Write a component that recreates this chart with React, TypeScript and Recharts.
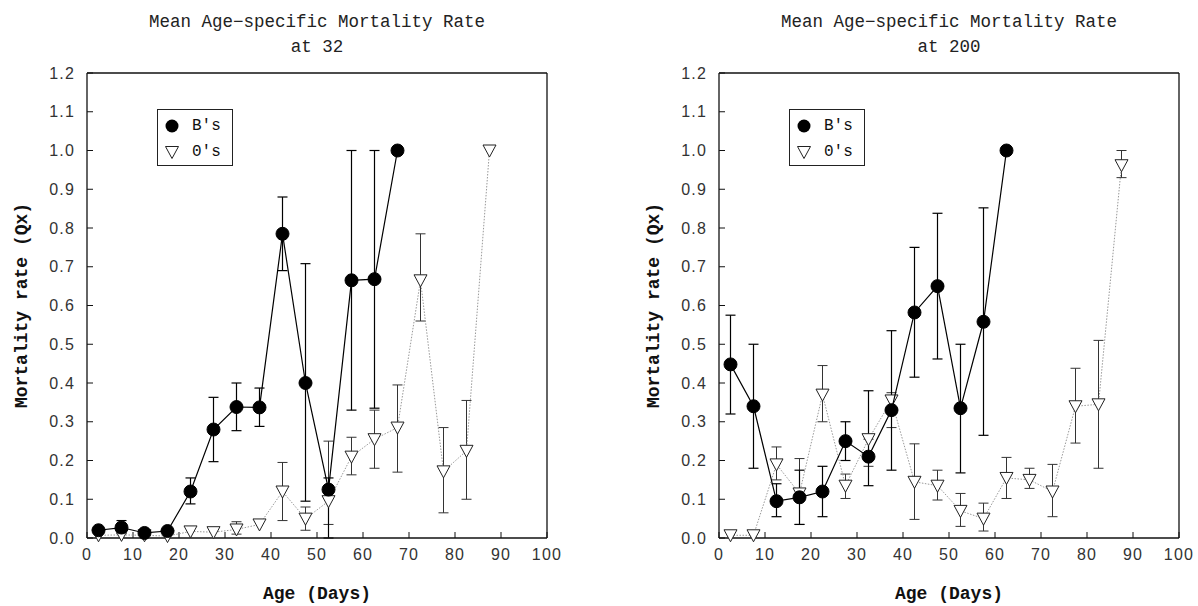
import React from 'react';
import { ComposedChart, Scatter, XAxis, YAxis, ErrorBar, Legend, Label } from 'recharts';

// ---------- shared axis ticks ----------
const xTicks = [0, 10, 20, 30, 40, 50, 60, 70, 80, 90, 100];
const yTicks = [0, 0.1, 0.2, 0.3, 0.4, 0.5, 0.6, 0.7, 0.8, 0.9, 1.0, 1.1, 1.2];

// ---------- panel 1: at 32 ----------
const title32 = ['Mean Age\u2212specific Mortality Rate', 'at 32'];
const bAges32 = [2.5, 7.5, 12.5, 17.5, 22.5, 27.5, 32.5, 37.5, 42.5, 47.5, 52.5, 57.5, 62.5, 67.5];
const bRate32 = [0.02, 0.027, 0.013, 0.018, 0.12, 0.28, 0.338, 0.337, 0.785, 0.4, 0.125, 0.665, 0.668, 1.0];
const bLow32 = [null, 0.012, null, null, 0.088, 0.197, 0.277, 0.288, 0.69, 0.095, 0.0, 0.33, 0.335, null];
const bHigh32 = [null, 0.045, null, null, 0.155, 0.363, 0.4, 0.387, 0.88, 0.708, 0.155, 1.0, 1.0, null];

const oAges32 = [2.5, 7.5, 12.5, 17.5, 22.5, 27.5, 32.5, 37.5, 42.5, 47.5, 52.5, 57.5, 62.5, 67.5, 72.5, 77.5, 82.5, 87.5];
const oRate32 = [0.007, 0.008, 0.007, 0.005, 0.017, 0.015, 0.022, 0.035, 0.12, 0.05, 0.095, 0.21, 0.255, 0.285, 0.665, 0.172, 0.225, 1.0];
const oLow32 = [null, null, null, null, null, null, 0.01, null, 0.045, 0.02, 0.035, 0.163, 0.18, 0.17, 0.56, 0.065, 0.1, null];
const oHigh32 = [null, null, null, null, null, null, 0.042, null, 0.195, 0.08, 0.25, 0.26, 0.33, 0.395, 0.785, 0.285, 0.355, null];

// ---------- panel 2: at 200 ----------
const title200 = ['Mean Age\u2212specific Mortality Rate', 'at 200'];
const bAges200 = [2.5, 7.5, 12.5, 17.5, 22.5, 27.5, 32.5, 37.5, 42.5, 47.5, 52.5, 57.5, 62.5];
const bRate200 = [0.448, 0.34, 0.095, 0.105, 0.12, 0.25, 0.21, 0.33, 0.582, 0.65, 0.335, 0.558, 1.0];
const bLow200 = [0.32, 0.18, 0.055, 0.035, 0.055, 0.2, 0.135, 0.175, 0.415, 0.462, 0.168, 0.265, null];
const bHigh200 = [0.575, 0.5, 0.14, 0.175, 0.185, 0.3, 0.38, 0.535, 0.75, 0.838, 0.5, 0.852, null];

const oAges200 = [2.5, 7.5, 12.5, 17.5, 22.5, 27.5, 32.5, 37.5, 42.5, 47.5, 52.5, 57.5, 62.5, 67.5, 72.5, 77.5, 82.5, 87.5];
const oRate200 = [0.007, 0.007, 0.19, 0.115, 0.37, 0.135, 0.255, 0.355, 0.145, 0.135, 0.07, 0.05, 0.155, 0.15, 0.12, 0.34, 0.345, 0.962];
const oLow200 = [null, null, 0.15, 0.035, 0.3, 0.102, 0.185, 0.285, 0.048, 0.098, 0.03, 0.018, 0.102, 0.128, 0.055, 0.245, 0.18, 0.93];
const oHigh200 = [null, null, 0.235, 0.205, 0.445, 0.165, 0.23, 0.375, 0.243, 0.175, 0.115, 0.09, 0.208, 0.18, 0.19, 0.438, 0.51, 1.0];

const legendNames = ["B's", "0's"];

type Pt = { x: number; y: number; err: [number, number] | null };

function buildSeries(ages: number[], vals: number[], lows: (number | null)[], highs: (number | null)[]): Pt[] {
  return ages.map((a, i) => {
    const lo = lows[i];
    const hi = highs[i];
    const v = vals[i];
    const err: [number, number] | null =
      lo === null || hi === null ? null : [Math.max(0, v - lo), Math.max(0, hi - v)];
    return { x: a, y: v, err };
  });
}

const MONO = '"Liberation Mono", "DejaVu Sans Mono", monospace';
const SANS = '"Liberation Sans", Arial, sans-serif';

const CircleShape = (p: any) => <circle cx={p.cx} cy={p.cy} r={6.5} fill="#000" stroke="#000" />;
const TriShape = (p: any) => {
  const cx = p.cx;
  const cy = p.cy;
  const d = `M${cx - 6.5},${cy - 5.5} L${cx + 6.5},${cy - 5.5} L${cx},${cy + 6.5} Z`;
  return <path d={d} fill="#fff" stroke="#222" strokeWidth={1} />;
};

const LegendBox = () => (
  <div
    style={{
      border: '1px solid #222',
      background: '#fff',
      width: 74,
      height: 55,
      boxSizing: 'content-box',
      fontFamily: MONO,
      fontSize: 16,
      color: '#111',
    }}
  >
    <div style={{ display: 'flex', alignItems: 'center', height: 26, marginTop: 3 }}>
      <svg width={34} height={26}>
        <circle cx={14} cy={13} r={6.5} fill="#000" />
      </svg>
      <span>{legendNames[0]}</span>
    </div>
    <div style={{ display: 'flex', alignItems: 'center', height: 26 }}>
      <svg width={34} height={26}>
        <path d="M7.5,7.5 L20.5,7.5 L14,19.5 Z" fill="#fff" stroke="#222" />
      </svg>
      <span>{legendNames[1]}</span>
    </div>
  </div>
);

const YTitle = (props: any) => {
  const vb = props.viewBox;
  const cx = vb.x + vb.width - 65;
  const cy = vb.y + vb.height / 2;
  return (
    <text
      x={cx}
      y={cy}
      transform={`rotate(-90, ${cx}, ${cy})`}
      textAnchor="middle"
      dominantBaseline="central"
      fontFamily={MONO}
      fontWeight="bold"
      fontSize={18}
      fill="#111"
    >
      Mortality rate (Qx)
    </text>
  );
};

const XTitle = (props: any) => {
  const vb = props.viewBox;
  const cx = vb.x + vb.width / 2;
  const cy = vb.y + 56;
  return (
    <text
      x={cx}
      y={cy}
      textAnchor="middle"
      dominantBaseline="central"
      fontFamily={MONO}
      fontWeight="bold"
      fontSize={18}
      fill="#111"
    >
      Age (Days)
    </text>
  );
};

const tickStyle = { fontFamily: SANS, fontSize: 16, fill: '#333', letterSpacing: 1.2 };

const YW = 40; // left axis width
const XH = 30; // bottom axis height

function Panel(props: {
  left: number;
  plotLeft: number;
  plotRight: number;
  title: string[];
  bData: Pt[];
  oData: Pt[];
  legendLeft: number;
}) {
  const W = 599;
  const H = 606;
  const plotTop = 73;
  const plotBottom = 538;
  const m = {
    top: plotTop - 1,
    left: props.plotLeft - YW,
    right: W - props.plotRight - 1,
    bottom: H - plotBottom - XH,
  };
  const plotCenter = (props.plotLeft + props.plotRight) / 2;
  return (
    <div style={{ position: 'absolute', left: props.left, top: 0, width: W, height: H }}>
      <div
        style={{
          position: 'absolute',
          top: 10,
          left: plotCenter - 250,
          width: 500,
          textAlign: 'center',
          fontFamily: MONO,
          fontSize: 17.5,
          lineHeight: '25px',
          color: '#222',
          whiteSpace: 'pre',
        }}
      >
        {props.title[0]}
        {'\n'}
        {props.title[1]}
      </div>
      <ComposedChart width={W} height={H} margin={m}>
        <XAxis
          xAxisId={0}
          type="number"
          dataKey="x"
          domain={[0, 100]}
          ticks={xTicks}
          height={XH}
          tickSize={-6}
          tickMargin={17}
          tick={tickStyle}
          stroke="#111"
          axisLine={{ stroke: '#111', strokeWidth: 1.3 }}
          tickLine={{ stroke: '#111' }}
          interval={0}
        >
          <Label content={<XTitle />} />
        </XAxis>
        <XAxis
          xAxisId="top"
          orientation="top"
          type="number"
          domain={[0, 100]}
          ticks={xTicks}
          height={1}
          tickSize={-6}
          tickFormatter={() => ''}
          stroke="#111"
          axisLine={{ stroke: '#111', strokeWidth: 1.3 }}
          tickLine={{ stroke: '#111' }}
          interval={0}
        />
        <YAxis
          yAxisId={0}
          type="number"
          dataKey="y"
          domain={[0, 1.2]}
          ticks={yTicks}
          width={YW}
          tickSize={-6}
          tickMargin={18}
          tick={tickStyle}
          tickFormatter={(v: number) => v.toFixed(1)}
          stroke="#111"
          axisLine={{ stroke: '#111', strokeWidth: 1.3 }}
          tickLine={{ stroke: '#111' }}
          interval={0}
        >
          <Label content={<YTitle />} />
        </YAxis>
        <YAxis
          yAxisId="right"
          orientation="right"
          type="number"
          domain={[0, 1.2]}
          ticks={yTicks}
          width={1}
          tickSize={-6}
          tickFormatter={() => ''}
          stroke="#111"
          axisLine={{ stroke: '#111', strokeWidth: 1.3 }}
          tickLine={{ stroke: '#111' }}
          interval={0}
        />
        <Legend
          content={<LegendBox />}
          layout="vertical"
          align="center"
          verticalAlign="middle"
          wrapperStyle={{ left: props.legendLeft, top: 109, width: 76 }}
        />
        <Scatter
          name={legendNames[1]}
          data={props.oData}
          xAxisId={0}
          yAxisId={0}
          line={{ stroke: '#999', strokeWidth: 1, strokeDasharray: '1.5 1.5' }}
          lineType="joint"
          shape={TriShape}
          isAnimationActive={false}
        >
          <ErrorBar dataKey="err" direction="y" width={5} stroke="#333" strokeWidth={1} />
        </Scatter>
        <Scatter
          name={legendNames[0]}
          data={props.bData}
          xAxisId={0}
          yAxisId={0}
          line={{ stroke: '#000', strokeWidth: 1.2 }}
          lineType="joint"
          shape={CircleShape}
          isAnimationActive={false}
        >
          <ErrorBar dataKey="err" direction="y" width={5} stroke="#000" strokeWidth={1.2} />
        </Scatter>
      </ComposedChart>
    </div>
  );
}

export default function App() {
  const b32 = buildSeries(bAges32, bRate32, bLow32, bHigh32);
  const o32 = buildSeries(oAges32, oRate32, oLow32, oHigh32);
  const b200 = buildSeries(bAges200, bRate200, bLow200, bHigh200);
  const o200 = buildSeries(oAges200, oRate200, oLow200, oHigh200);
  return (
    <div style={{ position: 'absolute', left: 0, top: 0, width: 1198, height: 606, background: '#fff', overflow: 'hidden' }}>
      <Panel left={0} plotLeft={87} plotRight={547} title={title32} bData={b32} oData={o32} legendLeft={157} />
      <Panel left={599} plotLeft={120} plotRight={580} title={title200} bData={b200} oData={o200} legendLeft={190} />
    </div>
  );
}
